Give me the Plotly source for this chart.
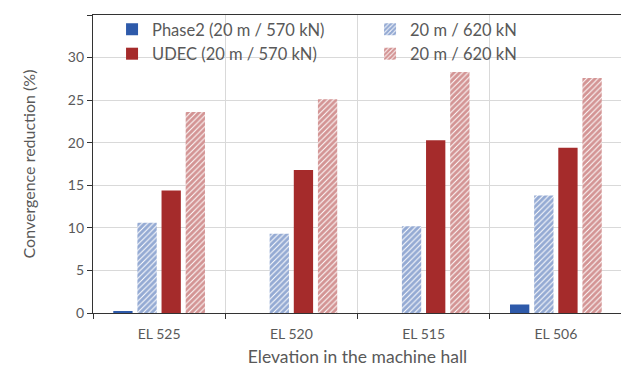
import plotly.graph_objects as go

categories = ["EL 525", "EL 520", "EL 515", "EL 506"]
phase2_570 = [0.2, 0.0, 0.0, 1.0]
phase2_620 = [10.6, 9.3, 10.2, 13.8]
udec_570 = [14.4, 16.8, 20.3, 19.4]
udec_620 = [23.6, 25.1, 28.3, 27.6]
y_ticks = [0, 5, 10, 15, 20, 25, 30, 35]

BLUE = "#2E5AAA"
RED = "#A52B2B"
RED_H = "#A82A2A"
BLUE_H = "#2A55A8"
TXT = "#595959"
FONT = "Lato"

fig = go.Figure()
fig.add_bar(x=categories, y=phase2_570, name="Phase2 (20 m / 570 kN)",
            marker=dict(color=BLUE, line=dict(width=0)))
fig.add_bar(x=categories, y=phase2_620, name="20 m / 620 kN",
            marker=dict(color="white", line=dict(width=0),
                        pattern=dict(shape="/", fgcolor=BLUE_H, bgcolor="white",
                                     size=4, solidity=0.75, fillmode="overlay")))
fig.add_bar(x=categories, y=udec_570, name="UDEC (20 m / 570 kN)",
            marker=dict(color=RED, line=dict(width=0)))
fig.add_bar(x=categories, y=udec_620, name="20 m / 620 kN ",
            marker=dict(color="white", line=dict(width=0),
                        pattern=dict(shape="/", fgcolor=RED_H, bgcolor="white",
                                     size=4, solidity=0.75, fillmode="overlay")))

# page has an 8px body margin, so the figure is offset by 8px
fig.update_layout(
    width=621, height=359,
    margin=dict(l=85, r=7, t=7, b=54, autoexpand=False),
    paper_bgcolor="white", plot_bgcolor="white",
    barmode="group", bargap=0.27, bargroupgap=0.2,
    font=dict(family=FONT, color=TXT, size=14),
    showlegend=True,
    legend=dict(orientation="h", x=0.036, y=1.01, xanchor="left", yanchor="top",
                entrywidth=213, itemwidth=30, tracegroupgap=0,
                font=dict(family=FONT, size=16.5, color=TXT),
                bgcolor="rgba(0,0,0,0)", traceorder="normal"),
    xaxis=dict(
        title=dict(text="Elevation in the machine hall", standoff=9,
                   font=dict(family=FONT, size=17.5, color=TXT)),
        tickson="boundaries", ticks="outside", ticklen=5, tickcolor="#333",
        ticklabelstandoff=8,
        showgrid=True, gridcolor="#D9D9D9", gridwidth=1,
        showline=True, linecolor="#333", linewidth=1.3, mirror=True,
        tickfont=dict(family=FONT, size=14, color=TXT),
        automargin=False,
    ),
    yaxis=dict(
        title=dict(text="Convergence reduction (%)", standoff=28,
                   font=dict(family=FONT, size=16, color=TXT)),
        range=[0, 35], tickvals=y_ticks,
        ticks="outside", ticklen=5, tickcolor="#333",
        showgrid=True, gridcolor="#D9D9D9", gridwidth=1,
        showline=True, linecolor="#333", linewidth=1.3, mirror=True,
        zeroline=False,
        tickfont=dict(family=FONT, size=14, color=TXT),
        automargin=False,
    ),
)

fig.write_html("out.html")
